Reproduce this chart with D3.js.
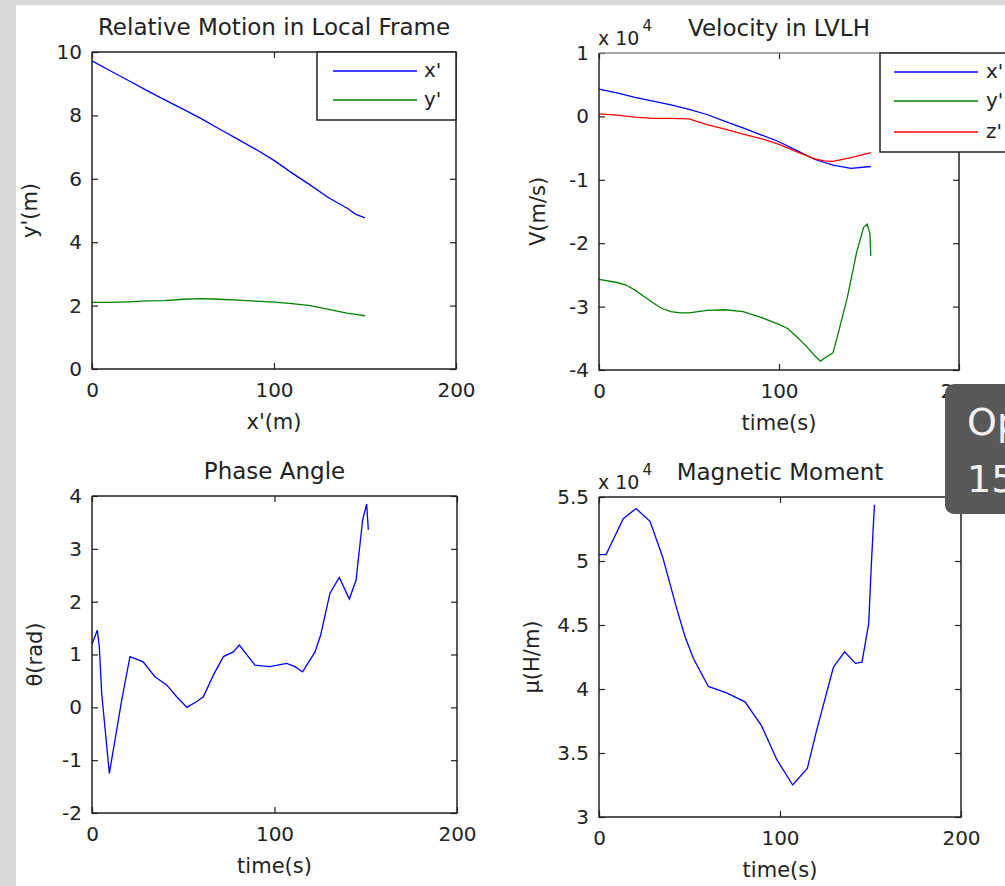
<!DOCTYPE html>
<html>
<head>
<meta charset="utf-8">
<script src="https://cdn.jsdelivr.net/npm/d3@7"></script>
<style>
body { margin: 0; background: #d9d9d9; }
svg { display: block; }
text { font-family: "DejaVu Sans", sans-serif; fill: #222; }
</style>
</head>
<body>
<svg id="fig" width="1005" height="886"></svg>
<script>
// ---- data ----
// Relative Motion in Local Frame
var motionX  = [0, 10, 20, 30, 40, 50, 60, 70, 80, 90, 100, 110, 120, 130, 140, 145, 150];
var motionXp = [9.72, 9.41, 9.1, 8.79, 8.49, 8.2, 7.9, 7.57, 7.25, 6.93, 6.58, 6.18, 5.8, 5.4, 5.08, 4.88, 4.77];
var motionYp = [2.1, 2.1, 2.12, 2.15, 2.16, 2.2, 2.22, 2.2, 2.17, 2.14, 2.11, 2.06, 2.0, 1.88, 1.76, 1.72, 1.68];

// Velocity in LVLH (x 10^4)
var velXt = [0, 10, 20, 30, 40, 50, 60, 70, 80, 90, 100, 110, 120, 130, 140, 151];
var velX  = [0.43, 0.37, 0.30, 0.24, 0.18, 0.11, 0.03, -0.08, -0.18, -0.29, -0.40, -0.54, -0.68, -0.77, -0.82, -0.79];
var velZt = [0, 10, 20, 30, 40, 50, 60, 70, 80, 90, 100, 110, 120, 125, 130, 140, 151];
var velZ  = [0.04, 0.02, -0.01, -0.03, -0.03, -0.04, -0.13, -0.2, -0.28, -0.35, -0.44, -0.56, -0.67, -0.70, -0.71, -0.65, -0.57];
var velYt = [0, 10, 15, 20, 25, 30, 35, 40, 45, 50, 55, 60, 70, 80, 90, 100, 105, 110, 115, 120, 123, 126, 130, 134, 138, 143, 147, 149, 150.5, 151];
var velY  = [-2.57, -2.62, -2.66, -2.74, -2.84, -2.94, -3.03, -3.08, -3.10, -3.10, -3.08, -3.06, -3.05, -3.08, -3.17, -3.28, -3.35, -3.48, -3.62, -3.78, -3.86, -3.80, -3.73, -3.30, -2.85, -2.16, -1.75, -1.70, -1.85, -2.20];

// Phase Angle
var phaseT = [0, 2.9, 4, 5.3, 9.5, 12.6, 16.3, 20.8, 28, 34.5, 41, 46.4, 52, 57.4, 61, 66.5, 72, 77.4, 80.7, 89.3, 97.5, 106.7, 111.2, 115.4, 122.2, 125.3, 130.4, 135.5, 141, 144.7, 148.3, 150.5, 151.4];
var phase  = [1.2, 1.46, 1.15, 0.27, -1.25, -0.62, 0.14, 0.96, 0.86, 0.58, 0.42, 0.20, 0.0, 0.11, 0.20, 0.61, 0.96, 1.05, 1.18, 0.80, 0.77, 0.83, 0.77, 0.67, 1.05, 1.37, 2.16, 2.46, 2.05, 2.41, 3.55, 3.85, 3.36];

// Magnetic Moment (x 10^4)
var magT = [0, 3.9, 13.4, 20.4, 28.2, 35.2, 42.9, 47.5, 52.1, 60.4, 70.5, 80.7, 89.9, 98.2, 107, 115.1, 120.3, 129.5, 135.7, 141.7, 145.3, 149, 150.4, 151.5, 152.2];
var mag  = [5.05, 5.05, 5.33, 5.41, 5.31, 5.03, 4.63, 4.41, 4.24, 4.02, 3.97, 3.90, 3.71, 3.45, 3.25, 3.38, 3.68, 4.17, 4.29, 4.20, 4.21, 4.51, 4.95, 5.26, 5.44];

var xTicks = [0, 100, 200];
var motionTicks = [0, 2, 4, 6, 8, 10];
var velTicks = [-4, -3, -2, -1, 0, 1];
var phaseTicks = [-2, -1, 0, 1, 2, 3, 4];
var magTicks = [3, 3.5, 4, 4.5, 5, 5.5];

function zip(xs, ys) { return xs.map(function (x, i) { return [x, ys[i]]; }); }

var panels = [
  { box: [92, 456, 52, 369], y: [0, 10], yTicks: motionTicks, title: "Relative Motion in Local Frame",
    xLabel: "x'(m)", yLabel: "y'(m)", yLabelX: 30,
    series: [{ pts: zip(motionX, motionXp), color: "#0000ff" }, { pts: zip(motionX, motionYp), color: "#008000" }],
    legend: { box: [317, 456, 52, 120], line: [333, 417], tx: 424, rows: [71, 100], names: ["x'", "y'"], colors: ["#0000ff", "#008000"] } },
  { box: [599, 959, 53, 370], y: [-4, 1], yTicks: velTicks, title: "Velocity in LVLH", expo: true, topGrey: true,
    xLabel: "time(s)", yLabel: "V(m/s)", yLabelX: 538,
    series: [{ pts: zip(velXt, velX), color: "#0000ff" }, { pts: zip(velYt, velY), color: "#008000" }, { pts: zip(velZt, velZ), color: "#ff0000" }],
    legend: { box: [880, 1015, 53, 152], line: [894, 978], tx: 986, rows: [72, 101, 132], names: ["x'", "y'", "z'"], colors: ["#0000ff", "#008000", "#ff0000"] } },
  { box: [92, 457, 496, 813], y: [-2, 4], yTicks: phaseTicks, title: "Phase Angle",
    xLabel: "time(s)", yLabel: "θ(rad)", yLabelX: 35,
    series: [{ pts: zip(phaseT, phase), color: "#0000ff" }] },
  { box: [599, 961, 497, 817], y: [3, 5.5], yTicks: magTicks, title: "Magnetic Moment", expo: true,
    xLabel: "time(s)", yLabel: "μ(H/m)", yLabelX: 532,
    series: [{ pts: zip(magT, mag), color: "#0000ff" }] }
];

var svg = d3.select("#fig");
// white figure area, grey strip left and top
svg.append("rect").attr("x", 16).attr("y", 5).attr("width", 1005 - 16).attr("height", 886 - 5).attr("fill", "#fff");

panels.forEach(function (p) {
  var L = p.box[0], R = p.box[1], T = p.box[2], B = p.box[3];
  var x = d3.scaleLinear().domain([0, 200]).range([L, R]);
  var y = d3.scaleLinear().domain(p.y).range([B, T]);
  var g = svg.append("g");
  var fmt = function (d) { return String(d); };

  g.append("rect").attr("x", L).attr("y", T).attr("width", R - L).attr("height", B - T)
    .attr("fill", "#fff");

  var ax = [
    g.append("g").attr("transform", "translate(0," + B + ")")
      .call(d3.axisBottom(x).tickValues(xTicks).tickFormat(fmt).tickSizeInner(-6).tickSizeOuter(0).tickPadding(14)),
    g.append("g").attr("transform", "translate(0," + T + ")")
      .call(d3.axisTop(x).tickValues(xTicks).tickFormat("").tickSizeInner(-6).tickSizeOuter(0)),
    g.append("g").attr("transform", "translate(" + L + ",0)")
      .call(d3.axisLeft(y).tickValues(p.yTicks).tickFormat(fmt).tickSizeInner(-6).tickSizeOuter(0).tickPadding(10)),
    g.append("g").attr("transform", "translate(" + R + ",0)")
      .call(d3.axisRight(y).tickValues(p.yTicks).tickFormat("").tickSizeInner(-6).tickSizeOuter(0))
  ];
  ax.forEach(function (a) {
    a.select(".domain").remove();
    a.selectAll("line").attr("stroke", "#222").attr("stroke-width", 1.2);
    a.selectAll("text").attr("font-size", 20).attr("font-family", "DejaVu Sans").attr("fill", "#222");
  });

  var line = d3.line().x(function (d) { return x(d[0]); }).y(function (d) { return y(d[1]); });
  p.series.forEach(function (s) {
    g.append("path").datum(s.pts).attr("d", line)
      .attr("fill", "none").attr("stroke", s.color).attr("stroke-width", 1.3);
  });

  // axes box
  g.append("path").attr("d", "M" + L + "," + T + "V" + B + "H" + R + "V" + T)
    .attr("fill", "none").attr("stroke", "#222").attr("stroke-width", 1.5);
  g.append("line").attr("x1", L).attr("x2", R).attr("y1", T).attr("y2", T)
    .attr("stroke", p.topGrey ? "#8a8a8a" : "#222").attr("stroke-width", 1.5);

  if (p.legend) {
    var lg = p.legend;
    g.append("rect").attr("x", lg.box[0]).attr("y", lg.box[2])
      .attr("width", lg.box[1] - lg.box[0]).attr("height", lg.box[3] - lg.box[2])
      .attr("fill", "#fff").attr("stroke", "#222").attr("stroke-width", 1.5);
    lg.names.forEach(function (n, i) {
      g.append("line").attr("x1", lg.line[0]).attr("x2", lg.line[1])
        .attr("y1", lg.rows[i]).attr("y2", lg.rows[i])
        .attr("stroke", lg.colors[i]).attr("stroke-width", 1.3);
      g.append("text").attr("x", lg.tx).attr("y", lg.rows[i]).attr("dy", "0.32em")
        .attr("font-size", 20).text(n);
    });
  }

  g.append("text").attr("x", (L + R) / 2).attr("y", T - 17).attr("text-anchor", "middle")
    .attr("font-size", 23).text(p.title);
  g.append("text").attr("x", (L + R) / 2).attr("y", B + 60).attr("text-anchor", "middle")
    .attr("font-size", 21).text(p.xLabel);
  g.append("text").attr("transform", "translate(" + p.yLabelX + "," + (T + B) / 2 + ") rotate(-90)")
    .attr("text-anchor", "middle").attr("dy", "0.35em").attr("font-size", 21).text(p.yLabel);

  if (p.expo) {
    var e = g.append("text").attr("x", L - 1).attr("y", T - 8).attr("font-size", 19);
    e.append("tspan").text("x 10");
    e.append("tspan").attr("dy", -14).attr("dx", 3).attr("font-size", 15).text("4");
  }
});

// overlay tooltip in the reference screenshot
svg.append("rect").attr("x", 945).attr("y", 384).attr("width", 90).attr("height", 130).attr("rx", 9)
  .attr("fill", "#595959");
svg.append("text").attr("x", 967).attr("y", 435).attr("font-family", "Open Sans").attr("font-size", 38)
  .style("fill", "#f2f2f2").text("Op");
svg.append("text").attr("x", 967).attr("y", 492).attr("font-family", "Open Sans").attr("font-size", 38)
  .style("fill", "#f2f2f2").text("15");
</script>
</body>
</html>
